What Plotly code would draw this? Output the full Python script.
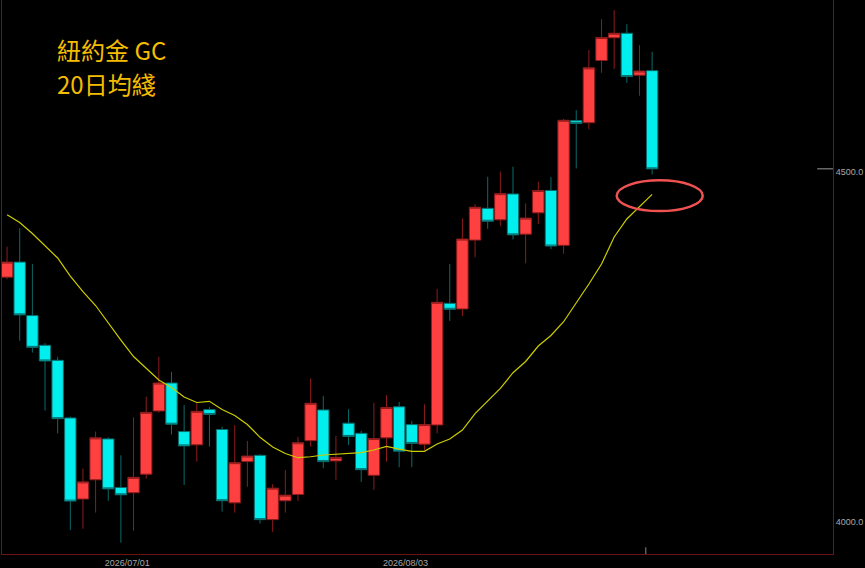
import numpy as np
import pandas as pd
import plotly.graph_objects as go

# trading days on the chart (Jul 3 holiday skipped)
dates = pd.bdate_range("2026-06-17", periods=53)
dates = dates[dates != pd.Timestamp("2026-07-03")]

# daily OHLC
opens = [4350, 4371.5, 4295, 4252.5, 4231, 4148.5, 4032.5, 4060, 4118.5, 4049,
         4041.5, 4068, 4158.5, 4198.5, 4129, 4110, 4160.5, 4132, 4027, 4086,
         4095, 4003, 4030, 4039, 4116, 4160, 4087, 4141, 4126.5, 4066.5,
         4120, 4164.5, 4139, 4111, 4138.5, 4312.5, 4304.5, 4403, 4448.5, 4432,
         4469, 4411.5, 4442, 4474, 4395.5, 4574, 4571, 4660, 4692.5, 4699,
         4639, 4645.5]
highs = [4393.5, 4420, 4369, 4255.5, 4236, 4150.5, 4076, 4129, 4121, 4095,
         4149.5, 4179, 4236, 4214.5, 4167, 4169.5, 4164, 4136, 4138, 4115.5,
         4096.5, 4054, 4074, 4121.5, 4205, 4180, 4122.5, 4161, 4130, 4170,
         4181, 4171.5, 4144, 4168, 4333, 4369, 4434, 4454.5, 4493.5, 4501,
         4508, 4455.5, 4486.5, 4493, 4576.5, 4589, 4675, 4719, 4732, 4712,
         4682, 4672.5]
lows = [4347, 4259, 4242, 4159, 4126.5, 3988, 3990, 4013, 4030, 3970,
        3987, 4061.5, 4156, 4125, 4052.5, 4086, 4107.5, 4014.5, 4013, 4050,
        3997.5, 3985.5, 4013, 4030, 4107.5, 4076.5, 4060, 4110, 4057, 4045.5,
        4086, 4078, 4078, 4102.5, 4126.5, 4287.5, 4294.5, 4378.5, 4419, 4423.5,
        4404, 4370, 4426, 4390, 4383.5, 4505.5, 4561.5, 4642.5, 4648, 4628,
        4609.5, 4497]
closes = [4371.5, 4296, 4249.5, 4230, 4147.5, 4029.5, 4057, 4120, 4047, 4038.5,
          4063.5, 4156.5, 4198.5, 4139.5, 4108.5, 4158, 4153.5, 4030, 4084.5, 4094,
          4003, 4048, 4038, 4113, 4169.5, 4086, 4092, 4122, 4074.5, 4119,
          4163.5, 4101, 4112, 4139, 4314, 4304, 4404.5, 4450, 4430, 4469.5,
          4410.5, 4434.5, 4474, 4394.5, 4574.5, 4570, 4649.5, 4693, 4699, 4637,
          4645, 4505]

# 20 day moving average
ma20 = [4439.3, 4428.2, 4412.4, 4395.3, 4377.4, 4351.6, 4329.4, 4309.4, 4284.3, 4260,
        4236.4, 4220, 4202.8, 4192, 4178.5, 4170.6, 4172.3, 4160.6, 4152, 4139.1,
        4120.8, 4106.9, 4097.6, 4091.6, 4093, 4095.5, 4096.9, 4097.3, 4099, 4102.6,
        4107.9, 4104, 4100.8, 4100.8, 4111.2, 4118.4, 4131.2, 4154.8, 4173.4, 4190.9,
        4213.2, 4229.3, 4251.4, 4266.5, 4286.2, 4312.3, 4340.2, 4368.8, 4407.4, 4433.2,
        4450.3, 4468.5]

x = np.arange(len(dates))
n = len(dates)

fig = go.Figure()

fig.add_trace(go.Candlestick(
    x=x, open=opens, high=highs, low=lows, close=closes,
    text=dates.strftime("%Y/%m/%d"), hoverinfo="text+y",
    increasing=dict(fillcolor="#ff4040", line=dict(color="#8e1c1c", width=1)),
    decreasing=dict(fillcolor="#00eeee", line=dict(color="#0b6a6a", width=1)),
    whiskerwidth=0,
))

fig.add_trace(go.Scatter(
    x=x, y=ma20, mode="lines",
    line=dict(color="#cccc00", width=1.2),
    hoverinfo="skip",
))

# month labels sit on the left edge of the first bar of the month
first_of_month = [i for i in range(1, n) if dates[i].month != dates[i - 1].month]
tick_pos = [i - 0.5 for i in first_of_month]
tick_txt = [dates[i].strftime("%Y/%m/%d") for i in first_of_month]

axis_red = "#6e1414"

fig.update_layout(
    width=865, height=568,
    margin=dict(l=2, r=32, t=0, b=14),
    paper_bgcolor="black",
    plot_bgcolor="black",
    showlegend=False,
    boxgap=0.1, boxgroupgap=0,
    font=dict(family="Liberation Sans, Arial", size=9, color="#a8a8a8"),
    xaxis=dict(
        range=[-0.4, 65.3],
        rangeslider=dict(visible=False),
        showgrid=False, zeroline=False,
        showline=True, linecolor=axis_red, linewidth=1,
        tickmode="array", tickvals=tick_pos, ticktext=tick_txt,
        ticks="",
    ),
    yaxis=dict(
        range=[3953.8, 4746.6],
        side="right",
        showgrid=False, zeroline=False,
        showline=True, mirror=True, linecolor=axis_red, linewidth=1,
        tickmode="array", tickvals=[4000, 4500], ticktext=["4000.0", "4500.0"],
        ticks="",
    ),
)

# last close marker on the price scale
fig.add_shape(type="line", xref="paper", yref="y",
              x0=0.981, x1=1.0, y0=closes[-1], y1=closes[-1],
              line=dict(color="#9a9a9a", width=1))
# small marker at the bottom by the last bar
fig.add_shape(type="line", xref="x", yref="paper",
              x0=n - 1.5, x1=n - 1.5, y0=0, y1=0.012,
              line=dict(color="#8a8a8a", width=1))

# red ring around the last MA point
fig.add_shape(type="circle", xref="x", yref="y",
              x0=n - 1 - 2.8, x1=n - 1 + 4.0,
              y0=ma20[-1] - 24, y1=ma20[-1] + 20,
              line=dict(color="#f05252", width=2.5))

title_font = dict(family="Noto Sans CJK TC", size=24, color="#f5bd00")
fig.add_annotation(text="紐約金 GC", xref="paper", yref="paper", x=0.064, y=0.91,
                   xanchor="left", yanchor="middle", showarrow=False, font=title_font)
fig.add_annotation(text="20日均綫", xref="paper", yref="paper", x=0.064, y=0.85,
                   xanchor="left", yanchor="middle", showarrow=False, font=title_font)

# page has a default 8px body margin; drop it so the chart fills the window
fig.write_html("out.html",
               config={"displayModeBar": False},
               post_script="document.body.style.margin='0';"
                           "document.body.style.background='black';")
